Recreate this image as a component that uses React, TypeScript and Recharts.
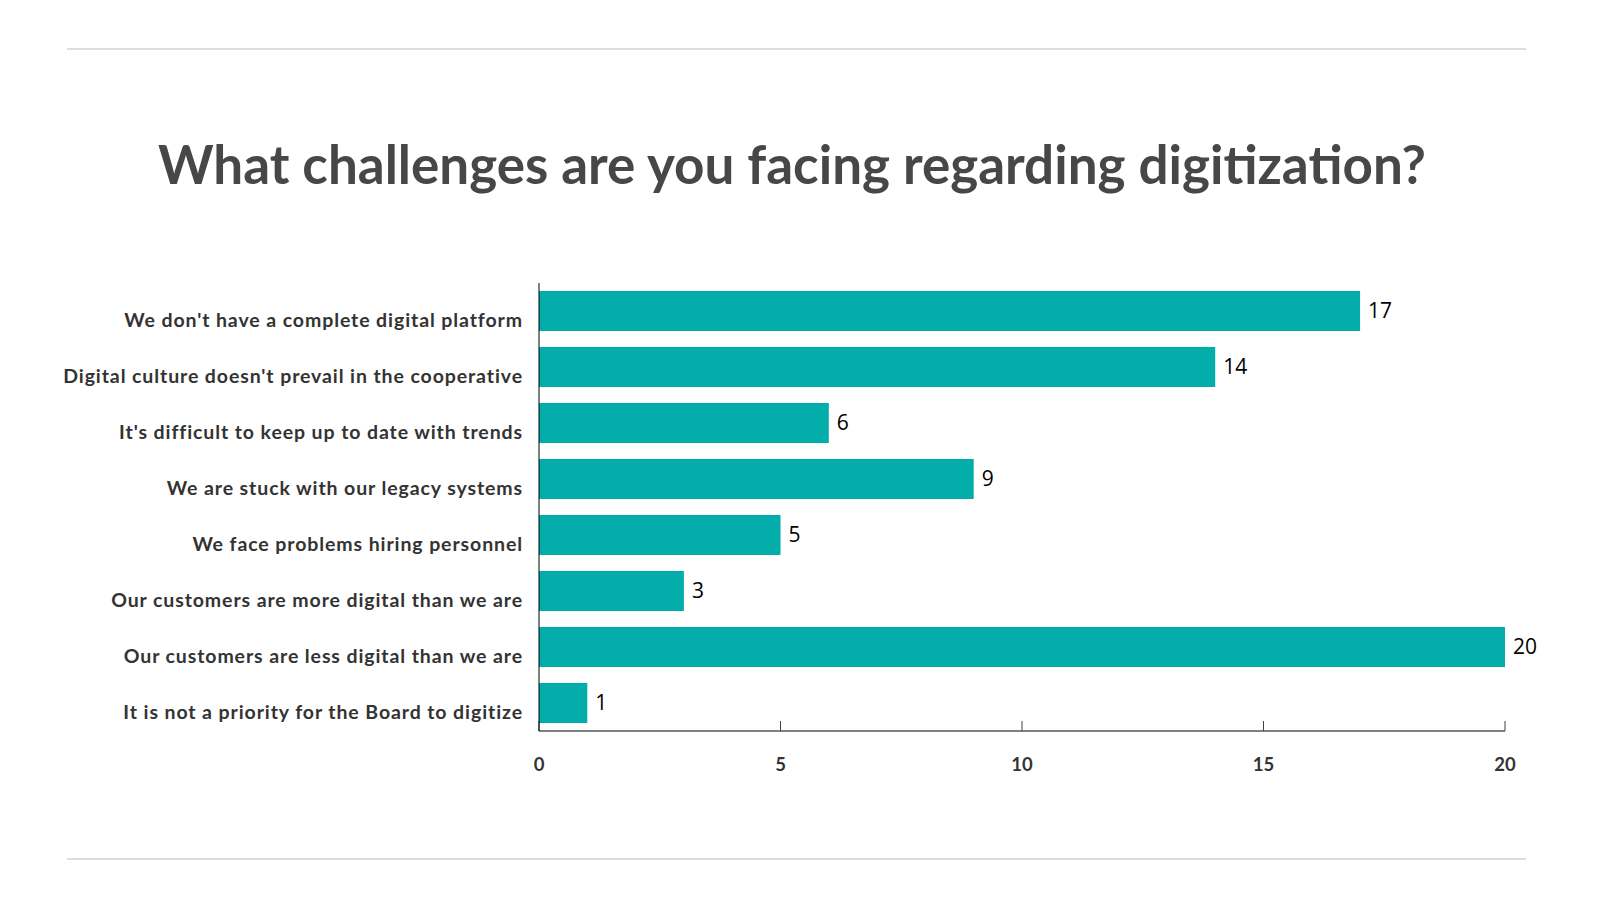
import React from 'react';
import { BarChart, Bar, XAxis, YAxis, LabelList } from 'recharts';

const challenges = [
  "We don't have a complete digital platform",
  "Digital culture doesn't prevail in the cooperative",
  "It's difficult to keep up to date with trends",
  'We are stuck with our legacy systems',
  'We face problems hiring personnel',
  'Our customers are more digital than we are',
  'Our customers are less digital than we are',
  'It is not a priority for the Board to digitize',
];
const responses = [17, 14, 6, 9, 5, 3, 20, 1];
const xTicks = [0, 5, 10, 15, 20];

const data = challenges.map((name, i) => ({ name, value: responses[i] }));

const TEAL = '#03ada9';
const FONT = 'Lato, "Open Sans", sans-serif';

const CategoryTick = ({ x, y, payload }: any) => (
  <text
    x={x}
    y={y + 8}
    textAnchor="end"
    dominantBaseline="central"
    fill="#333333"
    fontFamily={FONT}
    fontWeight={700}
    fontSize={19.5}
    letterSpacing={0.9}
  >
    {payload.value}
  </text>
);

const App: React.FC = () => {
  return (
    <div style={{ position: 'absolute', left: 0, top: 0, width: 1600, height: 905, background: '#fff', overflow: 'hidden' }}>
      <div style={{ position: 'absolute', left: 67, top: 48, width: 1459, height: 2, background: '#dedede' }} />
      <div style={{ position: 'absolute', left: 67, top: 858, width: 1459, height: 2, background: '#dedede' }} />
      <div
        style={{
          position: 'absolute',
          left: 92,
          width: 1400,
          top: 132,
          textAlign: 'center',
          whiteSpace: 'nowrap',
          fontFamily: FONT,
          fontWeight: 700,
          fontSize: 53,
          lineHeight: '64px',
          color: '#474747',
        }}
      >
        What challenges are you facing regarding digitization?
      </div>
      <div style={{ position: 'absolute', left: 0, top: 0 }}>
        <BarChart
          width={1600}
          height={905}
          data={data}
          layout="vertical"
          margin={{ top: 283, right: 95, bottom: 114, left: 39 }}
        >
          <XAxis
            type="number"
            domain={[0, 20]}
            ticks={xTicks}
            height={60}
            axisLine={{ stroke: '#808080', strokeWidth: 2 }}
            tickLine={{ stroke: '#404040' }}
            tickSize={-10}
            tickMargin={37}
            tick={{ fill: '#333333', fontFamily: FONT, fontWeight: 700, fontSize: 18.5 }}
          />
          <YAxis
            type="category"
            dataKey="name"
            width={500}
            axisLine={{ stroke: '#000000', strokeWidth: 1 }}
            tickLine={false}
            tickSize={0}
            tickMargin={16}
            tick={<CategoryTick />}
            interval={0}
          />
          <Bar dataKey="value" fill={TEAL} barSize={40} isAnimationActive={false}>
            <LabelList
              dataKey="value"
              position="right"
              offset={8}
              fill="#000000"
              fontFamily='"Open Sans", sans-serif'
              fontWeight={500}
              fontSize={21}
            />
          </Bar>
        </BarChart>
      </div>
    </div>
  );
};

export default App;
